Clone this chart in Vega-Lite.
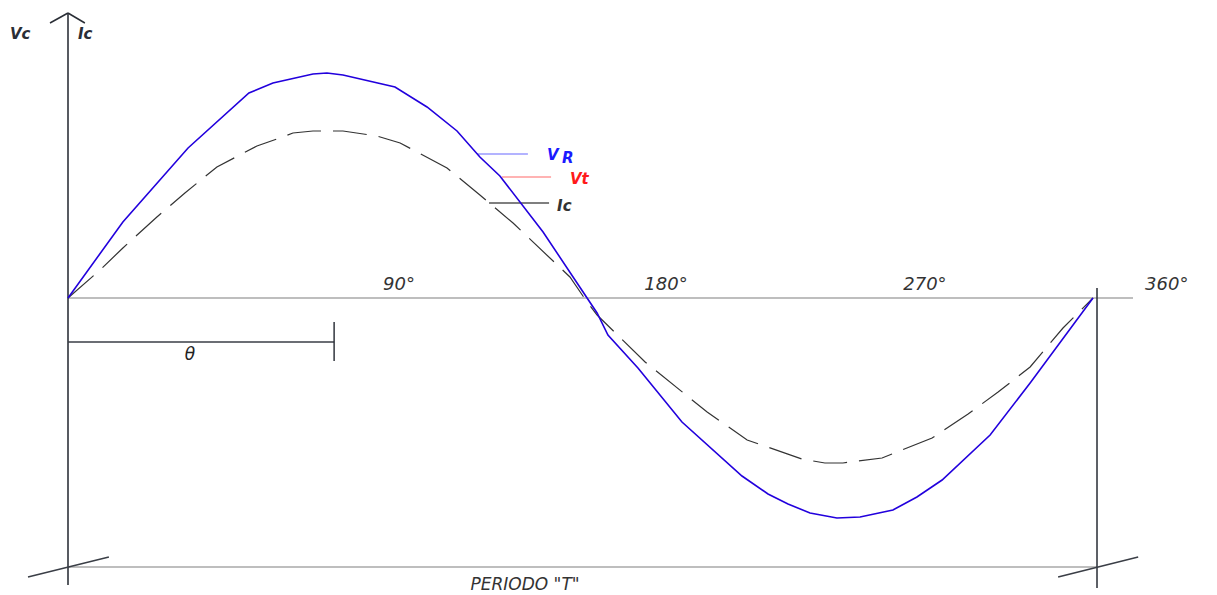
{
  "$schema": "https://vega.github.io/schema/vega-lite/v6.json",
  "width": 1217,
  "height": 595,
  "padding": 0,
  "autosize": {"type": "none"},
  "background": "white",
  "config": {"view": {"stroke": null}},
  "resolve": {"scale": {"color": "independent", "size": "independent"}},
  "datasets": {
    "curves": [
      {"series": "VR", "deg": 0, "amp": 0},
      {"series": "VR", "deg": 19.2, "amp": 76},
      {"series": "VR", "deg": 42.0, "amp": 150},
      {"series": "VR", "deg": 63.3, "amp": 205},
      {"series": "VR", "deg": 71.7, "amp": 215},
      {"series": "VR", "deg": 85.7, "amp": 224},
      {"series": "VR", "deg": 90.6, "amp": 225},
      {"series": "VR", "deg": 96.2, "amp": 223},
      {"series": "VR", "deg": 114.4, "amp": 211},
      {"series": "VR", "deg": 125.6, "amp": 191},
      {"series": "VR", "deg": 136.1, "amp": 167},
      {"series": "VR", "deg": 144.1, "amp": 141},
      {"series": "VR", "deg": 151.1, "amp": 122},
      {"series": "VR", "deg": 166.2, "amp": 66},
      {"series": "VR", "deg": 178.1, "amp": 15},
      {"series": "VR", "deg": 185.1, "amp": -15},
      {"series": "VR", "deg": 188.9, "amp": -37},
      {"series": "VR", "deg": 199.4, "amp": -70},
      {"series": "VR", "deg": 214.8, "amp": -124},
      {"series": "VR", "deg": 235.8, "amp": -178},
      {"series": "VR", "deg": 244.9, "amp": -196},
      {"series": "VR", "deg": 251.9, "amp": -206},
      {"series": "VR", "deg": 259.6, "amp": -215},
      {"series": "VR", "deg": 269.0, "amp": -220},
      {"series": "VR", "deg": 277.1, "amp": -219},
      {"series": "VR", "deg": 288.6, "amp": -212},
      {"series": "VR", "deg": 297.0, "amp": -199},
      {"series": "VR", "deg": 305.8, "amp": -182},
      {"series": "VR", "deg": 322.6, "amp": -137},
      {"series": "VR", "deg": 336.6, "amp": -85},
      {"series": "VR", "deg": 358.6, "amp": 0},
      {"series": "Ic", "deg": 0, "amp": 0},
      {"series": "Ic", "deg": 11.2, "amp": 28},
      {"series": "Ic", "deg": 19.2, "amp": 50},
      {"series": "Ic", "deg": 31.1, "amp": 81},
      {"series": "Ic", "deg": 40.9, "amp": 105},
      {"series": "Ic", "deg": 52.1, "amp": 131},
      {"series": "Ic", "deg": 66.1, "amp": 152},
      {"series": "Ic", "deg": 73.1, "amp": 159},
      {"series": "Ic", "deg": 78.7, "amp": 165},
      {"series": "Ic", "deg": 85.7, "amp": 167},
      {"series": "Ic", "deg": 96.2, "amp": 167},
      {"series": "Ic", "deg": 108.1, "amp": 162},
      {"series": "Ic", "deg": 116.2, "amp": 155},
      {"series": "Ic", "deg": 132.6, "amp": 130},
      {"series": "Ic", "deg": 144.1, "amp": 103},
      {"series": "Ic", "deg": 155.7, "amp": 75},
      {"series": "Ic", "deg": 175.6, "amp": 21},
      {"series": "Ic", "deg": 181.6, "amp": -4},
      {"series": "Ic", "deg": 185.1, "amp": -17},
      {"series": "Ic", "deg": 201.9, "amp": -64},
      {"series": "Ic", "deg": 223.6, "amp": -114},
      {"series": "Ic", "deg": 237.6, "amp": -142},
      {"series": "Ic", "deg": 256.8, "amp": -161},
      {"series": "Ic", "deg": 264.8, "amp": -165},
      {"series": "Ic", "deg": 271.1, "amp": -165},
      {"series": "Ic", "deg": 284.8, "amp": -160},
      {"series": "Ic", "deg": 302.3, "amp": -140},
      {"series": "Ic", "deg": 314.9, "amp": -116},
      {"series": "Ic", "deg": 325.4, "amp": -94},
      {"series": "Ic", "deg": 336.6, "amp": -69},
      {"series": "Ic", "deg": 348.1, "amp": -30},
      {"series": "Ic", "deg": 358.6, "amp": 0}
    ],
    "segments": [
      {"name": "baseline", "x": 0, "x2": 372.6, "y": 0, "y2": 0},
      {"name": "period", "x": 0, "x2": 360, "y": -269, "y2": -269},
      {"name": "vaxis", "x": 0, "x2": 0, "y": 285, "y2": -287},
      {"name": "arrowL", "x": -6.3, "x2": 0, "y": 275, "y2": 285},
      {"name": "arrowR", "x": 5.9, "x2": 0, "y": 275, "y2": 285},
      {"name": "endline", "x": 360, "x2": 360, "y": 10, "y2": -290},
      {"name": "slashL", "x": -14.0, "x2": 14.3, "y": -279, "y2": -259},
      {"name": "slashR", "x": 346.4, "x2": 374.4, "y": -279, "y2": -259},
      {"name": "thetaLine", "x": 0, "x2": 93.1, "y": -44, "y2": -44},
      {"name": "thetaTick", "x": 93.1, "x2": 93.1, "y": -24, "y2": -63},
      {"name": "legVR", "x": 143.1, "x2": 160.9, "y": 144, "y2": 144},
      {"name": "legVt", "x": 151.8, "x2": 169.0, "y": 121, "y2": 121},
      {"name": "legIc", "x": 147.3, "x2": 168.3, "y": 95, "y2": 95}
    ],
    "degLabels": [
      {"text": "90°", "deg": 115.8, "amp": 8},
      {"text": "180°", "deg": 209.2, "amp": 8},
      {"text": "270°", "deg": 299.8, "amp": 8}
    ],
    "texts": [
      {"name": "Vc", "text": "Vc", "deg": -20.3, "amp": 264},
      {"name": "IcAxis", "text": "Ic", "deg": 3.5, "amp": 264},
      {"name": "V", "text": "V", "deg": 167.6, "amp": 143},
      {"name": "R", "text": "R", "deg": 172.8, "amp": 140},
      {"name": "Vt", "text": "Vt", "deg": 175.6, "amp": 119},
      {"name": "IcLeg", "text": "Ic", "deg": 171.1, "amp": 92}
    ]
  },
  "layer": [
    {
      "data": {"name": "segments"},
      "mark": {"type": "rule"},
      "encoding": {
        "x": {"field": "x", "type": "quantitative", "scale": {"domain": [-23.79, 401.98], "nice": false, "zero": false}, "axis": null},
        "x2": {"field": "x2"},
        "y": {"field": "y", "type": "quantitative", "scale": {"domain": [-297, 298], "nice": false, "zero": false}, "axis": null},
        "y2": {"field": "y2"},
        "color": {
          "field": "name", "type": "nominal", "legend": null,
          "scale": {
            "domain": ["baseline", "period", "vaxis", "arrowL", "arrowR", "endline", "slashL", "slashR", "thetaLine", "thetaTick", "legVR", "legVt", "legIc"],
            "range": ["#a8a8a8", "#a8a8a8", "#2a2e36", "#2a2e36", "#2a2e36", "#2a2e36", "#3a3e46", "#3a3e46", "#3a3e46", "#2a2e36", "#9a9aff", "#ff9a9a", "#555555"]
          }
        },
        "strokeWidth": {
          "field": "name", "type": "nominal", "legend": null,
          "scale": {
            "domain": ["baseline", "period", "vaxis", "arrowL", "arrowR", "endline", "slashL", "slashR", "thetaLine", "thetaTick", "legVR", "legVt", "legIc"],
            "range": [1.6, 1.4, 2, 1.3, 1.3, 2, 1.2, 1.2, 1.1, 1.8, 1.5, 1.5, 1.2]
          }
        }
      }
    },
    {
      "data": {"name": "curves"},
      "transform": [{"filter": "datum.series === 'Ic'"}],
      "mark": {"type": "line", "color": "#333333", "strokeWidth": 1.2, "strokeDash": [34, 12]},
      "encoding": {
        "x": {"field": "deg", "type": "quantitative"},
        "y": {"field": "amp", "type": "quantitative"}
      }
    },
    {
      "data": {"name": "curves"},
      "transform": [{"filter": "datum.series === 'VR'"}],
      "mark": {"type": "line", "color": "#2200dd", "strokeWidth": 1.6},
      "encoding": {
        "x": {"field": "deg", "type": "quantitative"},
        "y": {"field": "amp", "type": "quantitative"}
      }
    },
    {
      "data": {"name": "degLabels"},
      "mark": {"type": "text", "font": "DejaVu Sans", "fontStyle": "italic", "fontSize": 18, "color": "#333333", "align": "center", "baseline": "alphabetic"},
      "encoding": {
        "x": {"field": "deg", "type": "quantitative"},
        "y": {"field": "amp", "type": "quantitative"},
        "text": {"field": "text"}
      }
    },
    {
      "data": {"values": [{"text": "360°", "deg": 376.8, "amp": 8}]},
      "mark": {"type": "text", "font": "DejaVu Sans", "fontStyle": "italic", "fontSize": 18, "color": "#333333", "align": "left", "baseline": "alphabetic"},
      "encoding": {
        "x": {"field": "deg", "type": "quantitative"},
        "y": {"field": "amp", "type": "quantitative"},
        "text": {"field": "text"}
      }
    },
    {
      "data": {"values": [{"text": "PERIODO \"T\"", "deg": 159.9, "amp": -292}]},
      "mark": {"type": "text", "font": "DejaVu Sans", "fontStyle": "italic", "fontSize": 17, "color": "#333333", "align": "center", "baseline": "alphabetic"},
      "encoding": {
        "x": {"field": "deg", "type": "quantitative"},
        "y": {"field": "amp", "type": "quantitative"},
        "text": {"field": "text"}
      }
    },
    {
      "data": {"values": [{"text": "θ", "deg": 42.7, "amp": -57}]},
      "mark": {"type": "text", "font": "DejaVu Sans", "fontStyle": "italic", "fontSize": 17, "color": "#222222", "align": "center", "baseline": "middle"},
      "encoding": {
        "x": {"field": "deg", "type": "quantitative"},
        "y": {"field": "amp", "type": "quantitative"},
        "text": {"field": "text"}
      }
    },
    {
      "data": {"name": "texts"},
      "mark": {"type": "text", "font": "DejaVu Sans", "fontStyle": "italic", "fontWeight": "bold", "align": "left", "baseline": "middle"},
      "encoding": {
        "x": {"field": "deg", "type": "quantitative"},
        "y": {"field": "amp", "type": "quantitative"},
        "text": {"field": "text"},
        "color": {
          "field": "name", "type": "nominal", "legend": null,
          "scale": {"domain": ["Vc", "IcAxis", "V", "R", "Vt", "IcLeg"], "range": ["#2a2e36", "#2a2e36", "#1a1aff", "#1a1aff", "#ff1a1a", "#333333"]}
        },
        "size": {
          "field": "name", "type": "nominal", "legend": null,
          "scale": {"domain": ["Vc", "IcAxis", "V", "R", "Vt", "IcLeg"], "range": [15, 15, 20, 13, 18, 17]}
        }
      }
    }
  ]
}
